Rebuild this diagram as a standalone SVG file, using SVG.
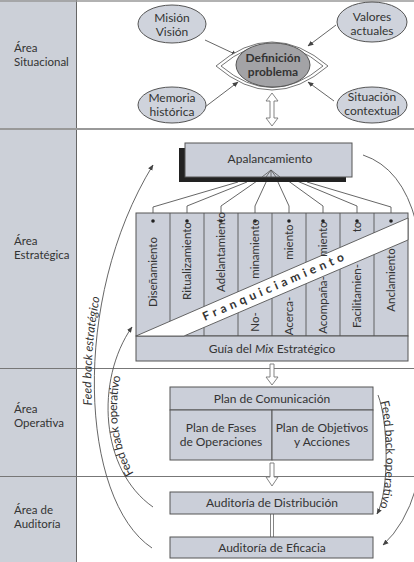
<svg xmlns="http://www.w3.org/2000/svg" width="414" height="562" viewBox="0 0 414 562">
<style>
text{font-family:Lato,"Open Sans","Liberation Sans",sans-serif;font-size:12px;fill:#333}
.box{fill:#cbcfd9;stroke:#555;stroke-width:1}
.ell{fill:#cfd3dc;stroke:#555;stroke-width:1}
.ln{fill:none;stroke:#555;stroke-width:0.9}
.sep{stroke:#777;stroke-width:1}
.c{text-anchor:middle}
.col{font-size:11.5px}
.area{font-size:11.5px}
.hol{fill:#fff;stroke:#777;stroke-width:0.9}
.fb{font-size:12px}
</style>
<defs>
<marker id="ah" viewBox="0 0 10 10" refX="9" refY="5" markerWidth="6" markerHeight="6" orient="auto-start-reverse" markerUnits="userSpaceOnUse">
<path d="M0,1 L10,5 L0,9 Z" fill="#444"/>
</marker>
</defs>
<rect x="0" y="0" width="414" height="562" fill="#fff"/>
<g id="areas">
<rect x="0" y="0" width="76" height="562" fill="#ccd0d8"/>
<line x1="76.5" y1="0" x2="76.5" y2="562" stroke="#666" stroke-width="1"/>
<line x1="0" y1="1" x2="414" y2="1" stroke="#999" stroke-width="1.5"/>
<line x1="0" y1="129" x2="414" y2="129" stroke="#999" stroke-width="2"/>
<line x1="0" y1="368.5" x2="414" y2="368.5" class="sep"/>
<line x1="0" y1="476.5" x2="414" y2="476.5" class="sep"/>
<text class="area" x="14" y="52">Área</text><text class="area" x="14" y="66">Situacional</text>
<text class="area" x="14" y="245">Área</text><text class="area" x="14" y="259">Estratégica</text>
<text class="area" x="14" y="413">Área</text><text class="area" x="14" y="427">Operativa</text>
<text class="area" x="14" y="514">Área de</text><text class="area" x="14" y="528">Auditoría</text>
</g>
<g id="connectors">
<line x1="205" y1="40" x2="237" y2="55" class="ln" marker-end="url(#ah)"/>
<line x1="336" y1="25" x2="308" y2="46" class="ln" marker-end="url(#ah)"/>
<line x1="205" y1="107" x2="238" y2="82" class="ln" marker-end="url(#ah)"/>
<line x1="334" y1="101" x2="308" y2="82" class="ln" marker-end="url(#ah)"/>
<polygon class="hol" points="272,93 278,101 274,101 274,118 278,118 272,126 266,118 270,118 270,101 266,101"/>
<polyline class="ln" points="153,221 153,207 238,182"/>
<polyline class="ln" points="187,221 187,206 247,182"/>
<polyline class="ln" points="221,221 221,206 257,181"/>
<polyline class="ln" points="255,221 255,206 267,180"/>
<polyline class="ln" points="289,221 289,206 277,180"/>
<polyline class="ln" points="323,221 323,206 287,180"/>
<polyline class="ln" points="357,221 357,206 297,181"/>
<polyline class="ln" points="391,221 391,207 307,182"/>
<polygon class="hol" points="270,364 274,364 274,377 278,377 272,385 266,377 270,377"/>
<polygon class="hol" points="270,463 274,463 274,477 278,477 272,486 266,477 270,477"/>
<line x1="270.5" y1="514" x2="270.5" y2="537" stroke="#777" stroke-width="0.9"/>
<line x1="273.5" y1="514" x2="273.5" y2="537" stroke="#777" stroke-width="0.9"/>
<path id="fbe" class="ln" d="M152,548 C80,500 70,300 153,165" marker-end="url(#ah)"/>
<path id="fbo" class="ln" d="M153,507 C100,470 95,380 132,327" marker-end="url(#ah)"/>
<path class="ln" d="M363,155 Q402,168 416,222"/>
<path class="ln" d="M416,488 Q405,525 383,545" marker-end="url(#ah)"/>
<path id="fbr" class="ln" d="M378,395 C388,420 390,490 377,514" marker-end="url(#ah)"/>
<text class="fb" font-style="italic"><textPath href="#fbe" startOffset="52%" text-anchor="middle"><tspan dy="-3">Feed back estratégico</tspan></textPath></text>
<text class="fb"><textPath href="#fbo" startOffset="47%" text-anchor="middle"><tspan dy="9">Feed back operativo</tspan></textPath></text>
<text class="fb"><textPath href="#fbr" startOffset="50%" text-anchor="middle"><tspan dy="0">Feed back operativo</tspan></textPath></text>
</g>
<g id="n-mision"><ellipse class="ell" cx="172" cy="24" rx="34" ry="19"/><text class="c" x="172" y="22">Misión</text><text class="c" x="172" y="36">Visión</text></g>
<g id="n-valores"><ellipse class="ell" cx="372" cy="22" rx="35" ry="20"/><text class="c" x="372" y="21">Valores</text><text class="c" x="372" y="35">actuales</text></g>
<g id="n-memoria"><ellipse class="ell" cx="172" cy="105" rx="34" ry="18"/><text class="c" x="172" y="102">Memoria</text><text class="c" x="172" y="116">histórica</text></g>
<g id="n-situacion"><ellipse class="ell" cx="372" cy="105" rx="35" ry="18"/><text class="c" x="372" y="101">Situación</text><text class="c" x="372" y="115">contextual</text></g>
<g id="n-definicion">
<path d="M216,66 Q272,18 328,66 Q272,114 216,66 Z" fill="#fff" stroke="#666" stroke-width="0.9"/>
<path d="M221,66 Q272,23 323,66 Q272,109 221,66 Z" fill="none" stroke="#666" stroke-width="0.9"/>
<ellipse cx="273" cy="65" rx="37" ry="22" fill="#a3a3a6" stroke="#555"/>
<text class="c" x="273" y="62" style="font-weight:bold;font-size:12px">Definición</text>
<text class="c" x="273" y="76" style="font-weight:bold;font-size:12px">problema</text>
</g>
<g id="n-apalancamiento">
<rect x="179" y="148" width="167" height="34" fill="#222"/>
<rect class="box" x="185" y="143" width="167" height="34"/>
<text class="c" x="270" y="163">Apalancamiento</text>
<path d="M262,177 L271,170 L280,177 M266,177 L271,170 L276,177 M271,170 L271,177" fill="none" stroke="#555" stroke-width="0.8"/>
</g>
<g id="n-matriz">
<rect class="box" x="136" y="213" width="272" height="123"/>
<rect class="box" x="136" y="336" width="272" height="25"/>
<g stroke="#555" stroke-width="0.9">
<line x1="170" y1="213" x2="170" y2="336"/><line x1="204" y1="213" x2="204" y2="336"/>
<line x1="238" y1="213" x2="238" y2="336"/><line x1="272" y1="213" x2="272" y2="336"/>
<line x1="306" y1="213" x2="306" y2="336"/><line x1="340" y1="213" x2="340" y2="336"/>
<line x1="374" y1="213" x2="374" y2="336"/>
</g>
<polygon points="136,336 408,218 408,240 184,336" fill="#fff" stroke="#555" stroke-width="0.9"/>
<g fill="#222">
<circle cx="153" cy="221" r="1.8"/><circle cx="187" cy="221" r="1.8"/><circle cx="221" cy="221" r="1.8"/><circle cx="255" cy="221" r="1.8"/>
<circle cx="289" cy="221" r="1.8"/><circle cx="323" cy="221" r="1.8"/><circle cx="357" cy="221" r="1.8"/><circle cx="391" cy="221" r="1.8"/>
</g>
<text class="c col" transform="translate(157,272) rotate(-90)">Diseñamiento</text>
<text class="c col" transform="translate(191,261) rotate(-90)">Ritualizamiento</text>
<text class="c col" transform="translate(225,252) rotate(-90)">Adelantamiento</text>
<text class="c col" transform="translate(259,249) rotate(-90)">minamiento</text>
<text class="c col" transform="translate(259,322) rotate(-90)">No-</text>
<text class="c col" transform="translate(293,242) rotate(-90)">miento</text>
<text class="c col" transform="translate(293,316) rotate(-90)">Acerca-</text>
<text class="c col" transform="translate(327,239) rotate(-90)">miento</text>
<text class="c col" transform="translate(327,305) rotate(-90)">Acompaña-</text>
<text class="c col" transform="translate(361,227) rotate(-90)">to</text>
<text class="c col" transform="translate(361,296) rotate(-90)">Facilitamien-</text>
<text class="c col" transform="translate(395,280) rotate(-90)">Anclamiento</text>
<text class="c" transform="translate(275,286) rotate(-23.5)" y="4" style="font-weight:bold;letter-spacing:4px">Franquiciamiento</text>
<text class="c" x="272" y="353">Guía del <tspan font-style="italic">Mix</tspan> Estratégico</text>
</g>
<g id="n-plan">
<rect class="box" x="170" y="387" width="203" height="23"/>
<rect class="box" x="170" y="410" width="102" height="50"/>
<rect class="box" x="272" y="410" width="101" height="50"/>
<text class="c" x="272" y="403">Plan de Comunicación</text>
<text class="c" x="221" y="432">Plan de Fases</text><text class="c" x="221" y="446">de Operaciones</text>
<text class="c" x="322" y="432">Plan de Objetivos</text><text class="c" x="322" y="446">y Acciones</text>
</g>
<g id="n-distribucion"><rect class="box" x="170" y="492" width="203" height="22"/><text class="c" x="272" y="507">Auditoría de Distribución</text></g>
<g id="n-eficacia"><rect class="box" x="170" y="537" width="203" height="21"/><text class="c" x="272" y="552">Auditoría de Eficacia</text></g>
</svg>
